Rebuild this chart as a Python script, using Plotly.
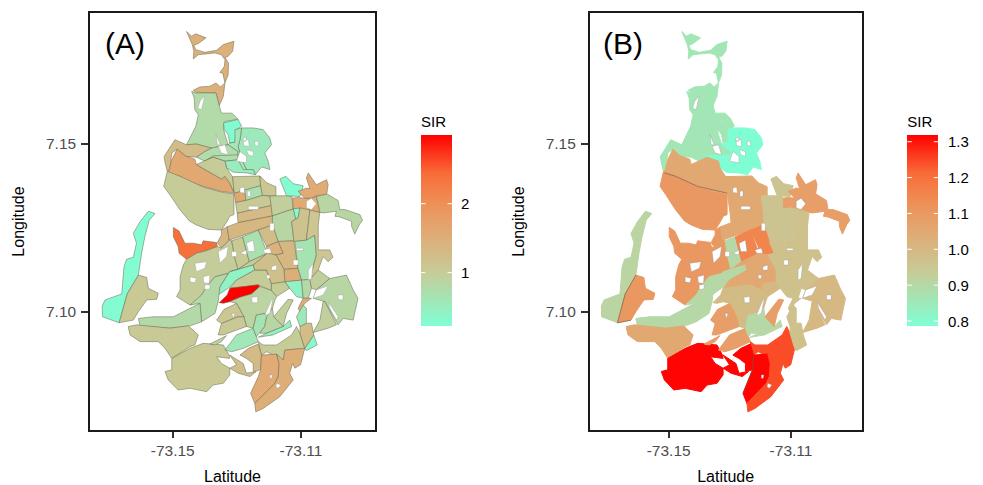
import plotly.graph_objects as go
from plotly.colors import sample_colorscale

# Outlines: (east of -73.15, north of 7.10), in 1/10000 degree.
N1 = [(43,835),(59,821),(72,828),(104,816),(80,799),(66,794),(72,781),(100,773),(137,779),(158,796),(191,806),(187,776),(173,761),(163,758),(174,741),(173,706),(163,682),(156,711),(147,713),(161,731),(163,751),(152,766),(132,771),(100,769),(80,766),(64,753),(66,776),(61,796),(52,816)]
N2 = [(64,660),(85,670),(116,672),(135,682),(149,670),(163,682),(158,642),(145,614),(135,652),(95,652),(72,654)]
N3 = [(59,657),(72,652),(100,652),(135,652),(145,614),(152,592),(184,592),(204,574),(163,567),(158,548),(163,528),(173,498),(121,488),(74,500),(43,498),(72,553),(80,587),(69,602),(67,637)]
N4 = [(158,563),(204,573),(215,553),(199,543),(194,505),(178,503),(173,528),(161,543)]
N5 = [(215,548),(251,548),(282,543),(303,518),(308,498),(287,473),(298,449),(303,424),(277,432),(258,409),(251,424),(230,424),(215,454),(204,493),(210,513)]
N6 = [(74,461),(100,478),(121,488),(173,498),(204,478),(204,453),(163,449),(126,461),(100,449),(87,454)]
N6B = [(100,449),(126,465),(204,468),(204,453),(163,449),(126,461)]
N7 = [(163,449),(204,453),(230,424),(251,424),(258,409),(230,414),(189,416),(168,429)]
N8 = [(194,543),(215,548),(210,513),(204,493),(215,454),(230,424),(220,424),(204,453),(204,478),(173,498),(178,503),(194,505)]
W1 = [(-27,463),(-11,488),(7,513),(43,498),(74,500),(121,488),(100,478),(74,461),(43,463),(14,485),(-3,473),(-9,424),(-17,419),(-24,444)]
W2 = [(14,485),(38,465),(69,455),(74,439),(100,424),(152,396),(163,404),(178,384),(192,354),(152,359),(95,374),(49,389),(23,404),(-14,414),(-3,453)]
W2B = [(74,439),(100,449),(126,461),(163,449),(168,429),(187,402),(192,354),(178,384),(163,404),(152,396),(100,424)]
W3 = [(-28,374),(-17,419),(23,404),(95,372),(152,357),(191,351),(191,290),(178,285),(170,270),(152,244),(111,246),(74,259),(52,271),(23,304),(-9,349)]
M1 = [(187,403),(272,405),(274,376),(225,363),(192,353)]
M2 = [(192,353),(225,363),(228,332),(196,326)]
M3 = [(225,363),(274,376),(280,347),(228,332)]
M4 = [(272,405),(293,385),(322,373),(322,346),(280,347),(274,376)]
M5 = [(196,326),(228,332),(280,347),(303,345),(308,317),(201,294)]
M6 = [(201,294),(308,317),(311,286),(204,266)]
B0 = [(139,207),(152,229),(152,244),(170,254),(176,214),(152,190)]
B1 = [(204,266),(311,286),(311,259),(267,244),(176,214),(170,254)]
M7 = [(303,345),(322,346),(371,346),(376,307),(311,286),(308,317)]
M8 = [(374,339),(391,341),(412,339),(433,339),(448,346),(459,297),(391,307),(376,305)]
M9 = [(376,307),(397,310),(391,280),(383,277)]
M10 = [(311,286),(376,307),(383,277),(371,269),(378,212),(329,210),(311,259)]
NEA = [(334,396),(353,404),(376,382),(407,376),(397,344),(355,346)]
NET = [(391,359),(417,369),(428,367),(417,399),(423,414),(440,389),(448,379),(480,394),(485,379),(480,349),(448,346),(433,339),(412,339)]
EG = [(448,344),(482,351),(516,332),(521,305),(537,305),(584,290),(592,273),(582,260),(568,232),(558,255),(558,270),(521,283),(506,285),(511,300),(469,295),(459,297),(454,323)]
S1 = [(-76,300),(-55,293),(-73,274),(-87,224),(-97,175),(-107,110),(-142,54),(-167,-32),(-219,-14),(-220,18),(-211,36),(-159,54),(-152,135),(-144,157),(-123,163),(-113,205),(-123,234),(-102,269)]
S2 = [(-107,110),(-81,103),(-76,71),(-45,56),(-50,38),(-81,36),(-107,1),(-123,-24),(-167,-32),(-142,54)]
RW = [(2,252),(20,241),(38,205),(64,205),(90,200),(95,212),(137,207),(139,195),(106,183),(74,175),(43,157),(20,175),(17,195),(2,224)]
R1 = [(43,157),(74,175),(106,183),(139,195),(152,190),(176,214),(184,212),(194,160),(204,127),(178,120),(173,115),(132,105),(106,75),(90,51),(80,31),(54,21),(12,46),(23,66),(23,105),(33,140)]
B2 = [(184,212),(218,224),(239,150),(204,127),(194,160)]
B3 = [(218,224),(267,244),(295,175),(239,150)]
B4 = [(267,244),(311,259),(329,210),(293,195)]
B6 = [(293,195),(329,210),(345,175),(322,170),(295,175)]
B7 = [(329,210),(378,212),(391,130),(347,127),(322,170),(345,175)]
B7B = [(347,127),(391,130),(402,95),(350,90)]
B8 = [(371,269),(383,277),(391,280),(397,310),(428,304),(417,214),(381,210),(378,212)]
B9 = [(381,210),(417,214),(443,229),(448,170),(428,97),(402,95),(391,130)]
B10 = [(428,304),(459,296),(454,259),(454,185),(490,185),(500,163),(485,150),(469,165),(454,125),(428,97),(448,170),(443,229),(417,214)]
B11 = [(204,127),(239,150),(295,175),(251,140),(178,120)]
R2 = [(142,51),(147,75),(178,120),(251,140),(256,125),(199,95),(173,71)]
R3 = [(199,95),(256,125),(293,125),(308,84),(308,64),(267,81),(230,76),(178,71)]
R4 = [(251,140),(295,175),(322,170),(347,127),(350,90),(308,84),(293,125),(256,125)]
R5 = [(308,84),(350,90),(365,71),(324,46),(308,64)]
R6 = [(350,90),(402,95),(407,41),(386,46),(365,71)]
R7 = [(402,95),(428,97),(433,71),(423,41),(407,41)]
R7B = [(428,97),(454,125),(490,100),(448,66),(433,71)]
R8 = [(145,28),(170,51),(178,71),(230,76),(267,81),(272,76),(246,54),(210,44),(178,31),(158,26)]
R9 = [(178,31),(210,44),(246,54),(272,76),(308,64),(324,46),(319,36),(311,11),(288,-4),(261,-9),(251,-48),(230,-43),(222,-14),(199,26)]
R10 = [(54,21),(90,51),(106,75),(132,105),(173,115),(147,75),(142,31),(132,-4),(90,-29),(85,26)]
R11 = [(-107,-19),(-61,-14),(2,-14),(54,11),(85,26),(90,-29),(54,-41),(-9,-48),(-102,-41)]
R12 = [(-139,-43),(-112,-38),(-9,-48),(49,-41),(80,-68),(69,-98),(54,-103),(-3,-138),(-24,-108),(-45,-88),(-102,-88),(-133,-68)]
R13 = [(-24,-177),(-3,-172),(-3,-138),(54,-108),(95,-93),(158,-98),(176,-128),(178,-138),(137,-133),(152,-153),(178,-167),(178,-187),(158,-212),(126,-217),(106,-237),(80,-232),(54,-227),(17,-232),(-14,-202)]
R14 = [(178,-128),(220,-153),(230,-182),(261,-177),(241,-192),(204,-182),(178,-167),(199,-157)]
R15 = [(137,-24),(160,8),(189,21),(199,26),(222,-14),(204,-14),(152,-34)]
R16 = [(142,-68),(152,-34),(204,-14),(222,-14),(230,-43),(189,-58),(158,-68)]
R16B = [(116,-95),(168,-70),(152,-88),(132,-98)]
R17 = [(163,-113),(199,-68),(225,-58),(251,-48),(261,-73),(267,-88),(220,-108),(184,-118)]
R18 = [(251,-48),(261,-9),(288,-4),(293,-14),(287,-43),(261,-73)]
R19 = [(272,-63),(287,-43),(293,-14),(311,11),(315,-14),(345,-43),(293,-63)]
R20 = [(267,-75),(293,-63),(345,-43),(365,-24),(371,-43),(313,-68)]
R21 = [(315,-14),(360,38),(376,36),(355,-4),(345,-43)]
R22 = [(267,-88),(282,-98),(324,-98),(371,-68),(386,-43),(397,-63),(412,-108),(350,-113),(345,-143),(293,-118),(277,-128),(267,-95)]
R23 = [(210,-128),(236,-108),(267,-95),(277,-128),(274,-172),(251,-177),(251,-153),(230,-138)]
R24 = [(277,-128),(324,-125),(332,-153),(329,-192),(319,-212),(267,-262),(256,-272),(243,-242),(267,-192),(274,-172)]
R25 = [(324,-125),(345,-143),(350,-113),(412,-108),(399,-157),(381,-167),(374,-153),(365,-182),(376,-202),(334,-252),(282,-287),(259,-297),(256,-272),(267,-262),(319,-212),(329,-192),(332,-153)]
R26 = [(412,-108),(440,-68),(451,-98),(417,-115)]
R27 = [(397,-43),(417,-33),(433,-33),(440,-68),(412,-108),(397,-63)]
R28 = [(391,11),(407,41),(433,41),(412,26),(397,1)]
R29 = [(386,-14),(407,21),(417,11),(417,-33),(397,-43)]
E1 = [(448,66),(490,100),(542,110),(563,66),(578,41),(563,-24),(532,-19),(516,-38),(475,31),(438,41)]
E2 = [(438,-61),(459,-24),(469,31),(475,31),(511,-38),(485,-48)]

areas = [N1,N2,N3,N4,N5,N6,N6B,N7,N8,W1,W2,W2B,W3,M1,M2,M3,M4,M5,M6,B0,B1,M7,M8,M9,M10,NEA,NET,EG,S1,S2,RW,R1,B2,B3,B4,B6,B7,B7B,B8,B9,B10,B11,R2,R3,R4,R5,R6,R7,R7B,R8,R9,R10,R11,R12,R13,R14,R15,R16,R16B,R17,R18,R19,R20,R21,R22,R23,R24,R25,R26,R27,R28,R29,E1,E2]
sir_a = [1.47,1.47,.78,.27,.55,.75,.75,.5,.6,1.25,1.6,1.0,1.0,1.02,1.6,.72,1.08,1.05,1.3,1.35,1.35,.95,1.55,.27,.85,.27,1.55,.85,.27,1.05,2.37,.98,1.05,.7,1.25,1.45,1.35,1.5,1.15,.65,1.1,1.0,.42,1.0,1.2,1.0,.42,.8,.95,2.97,.88,.8,.8,1.05,1.05,1.2,1.1,1.05,.85,.6,.65,.85,.45,.95,1.0,1.3,1.55,1.5,.35,1.25,1.55,.55,.85,.95]
sir_b = [.86,.86,.86,.86,.79,.86,.79,.79,.79,.86,1.05,1.05,1.10,1.05,1.05,1.05,1.05,1.05,1.05,1.10,1.05,.96,1.08,.96,.96,.96,1.08,1.08,.91,1.10,1.10,1.10,.90,1.15,1.15,1.15,.97,.97,.96,.97,.97,1.06,.90,1.05,1.05,1.0,.97,.97,.97,.99,.99,.90,.90,1.05,1.31,1.31,1.08,1.08,1.08,1.08,.9,.9,.9,1.08,1.24,1.31,1.31,1.24,.97,.97,.97,.97,1.0,1.0]

holes = [
 [(100,644),(90,602),(78,607),(85,627)],[(135,528),(149,498),(139,498)],[(142,493),(163,498),(173,468),(152,473)],
 [(210,478),(230,463),(230,444),(199,449)],[(210,369),(222,372),(225,354),(210,356)],[(233,359),(243,361),(243,344),(233,344)],
 [(236,315),(267,315),(267,305),(236,305)],[(142,180),(173,195),(168,165),(147,145)],[(69,145),(106,150),(100,130),(74,120)],
 [(95,105),(116,110),(114,85),(97,87)],[(54,105),(74,100),(69,87),(54,90)],[(100,81),(118,81),(114,68),(100,68)],
 [(230,205),(251,214),(256,180),(236,180)],[(303,264),(316,264),(316,242),(303,242)],[(246,44),(265,46),(265,28),(248,28)],
 [(308,36),(313,41),(303,-4),(287,-9)],
 [(485,31),(516,-14),(511,-24),(490,11)],[(516,51),(532,51),(530,36),(516,38)],[(423,125),(438,145),(433,100),(423,95)],
 [(448,66),(485,78),(469,51),(438,41)],[(376,155),(391,155),(391,140),(376,140)],[(386,190),(407,190),(407,183),(386,183)],
 [(303,-187),(311,-187),(309,-197),(303,-197)],[(324,-212),(337,-217),(329,-227),(322,-222)],[(220,508),(236,515),(239,493),(222,495)],
 [(417,330),(433,339),(448,322),(433,305),(417,310)],
 [(230,483),(251,478),(251,463),(236,468)],[(220,518),(230,521),(228,508),(220,508)],[(256,508),(267,508),(267,493),(256,498)],
 [(184,180),(199,180),(199,165),(184,165)],[(210,175),(230,185),(230,170)],[(282,185),(303,190),(308,175),(288,175)],
 [(308,135),(324,140),(324,125),(308,125)],[(293,110),(303,110),(303,100),(293,100)],[(184,-4),(194,-4),(189,-19)],
]
b_borders = [[(-14,414),(23,404),(95,374),(191,354)],[(-107,110),(-142,54),(-167,-32)],[(-167,-32),(-123,-24)],[(243,-242),(267,-192),(274,-172),(277,-128)]]

LON0, LAT0, UNIT = -73.15, 7.10, 1e-4
x_ticks = [-73.15, -73.11]
y_ticks = [7.10, 7.15]
x_labels = ["-73.15", "-73.11"]
y_labels = ["7.10", "7.15"]
ticks_a = [1, 2]
ticks_b = [0.8, 0.9, 1.0, 1.1, 1.2, 1.3]
labels_a = ["1", "2"]
labels_b = ["0.8", "0.9", "1.0", "1.1", "1.2", "1.3"]
limits_a = (0.232, 2.97)
limits_b = (0.787, 1.314)

SCALE = [[0,"#7FFFD4"],[.28,"#C6CC98"],[.5,"#E2A872"],[.64,"#EE9058"],[.8,"#F86C38"],[1,"#FF0000"]]
W, H = 983, 485
FONT = "Liberation Sans"
BAR_BOTTOM, BAR_H, BAR_W = 325.7, 189, 31

def lons(p): return [LON0 + q[0]*UNIT for q in p] + [LON0 + p[0][0]*UNIT]
def lats(p): return [LAT0 + q[1]*UNIT for q in p] + [LAT0 + p[0][1]*UNIT]
def colour(v, lim): return sample_colorscale(SCALE, [min(1,max(0,(v-lim[0])/(lim[1]-lim[0])))])[0]

fig = go.Figure()
def panel(vals, lim, xa, ya, edge):
    for p, v in zip(areas, vals):
        c = colour(v, lim)
        fig.add_trace(go.Scatter(x=lons(p), y=lats(p), xaxis=xa, yaxis=ya, mode="lines", fill="toself",
            fillcolor=c, line=dict(color=edge or c, width=0.5 if edge else 1), showlegend=False, hoverinfo="skip"))
    hx, hy = [], []
    for h in holes:
        hx += lons(h) + [None]; hy += lats(h) + [None]
    fig.add_trace(go.Scatter(x=hx, y=hy, xaxis=xa, yaxis=ya, mode="lines", fill="toself", fillcolor="white",
        line=dict(color="#999999", width=0.4), showlegend=False, hoverinfo="skip"))

panel(sir_a, limits_a, "x", "y", "#66664f")
panel(sir_b, limits_b, "x2", "y2", None)
for b in b_borders:
    fig.add_trace(go.Scatter(x=[LON0+q[0]*UNIT for q in b], y=[LAT0+q[1]*UNIT for q in b], xaxis="x2", yaxis="y2",
        mode="lines", line=dict(color="#6a5a4a", width=0.6), showlegend=False, hoverinfo="skip"))

notes = []
def bar(lim, tv, tt, xa, ya, px, label_px):
    fig.add_trace(go.Scatter(x=[LON0], y=[LAT0], xaxis=xa, yaxis=ya, mode="markers", showlegend=False, hoverinfo="skip",
        marker=dict(size=1, opacity=0, color=[lim[0]], cmin=lim[0], cmax=lim[1], colorscale=SCALE,
            colorbar=dict(x=px/W, xanchor="left", xpad=0, ypad=0, thickness=BAR_W, thicknessmode="pixels",
                len=(BAR_H+24)/H, lenmode="fraction", y=(H-BAR_BOTTOM)/H, yanchor="bottom", outlinewidth=0, borderwidth=0,
                tickmode="array", tickvals=tv, ticktext=tt, ticks="", showticklabels=False,
                title=dict(text="SIR", side="top", font=dict(family=FONT, size=15, color="black"))))))
    for v, t in zip(tv, tt):
        py = BAR_BOTTOM - (v-lim[0])/(lim[1]-lim[0])*BAR_H
        yy = 1 - py/H
        notes.append(dict(text=t, x=label_px/W, y=yy, xref="paper", yref="paper", xanchor="left", yanchor="middle",
            showarrow=False, font=dict(family=FONT, size=15, color="black")))
        for xp, off in ((px, 6), (px+BAR_W, -6)):
            notes.append(dict(text="", x=xp/W, y=yy, xref="paper", yref="paper", ax=off, ay=0, showarrow=True,
                arrowhead=0, arrowwidth=1, arrowcolor="white", standoff=0))
bar(limits_a, ticks_a, labels_a, "x", "y", 421, 459)
bar(limits_b, ticks_b, labels_b, "x2", "y2", 907.3, 946)

xr, yr = [-73.1758, -73.0869], [7.0649, 7.189]
ax = dict(range=xr, tickmode="array", tickvals=x_ticks, ticktext=x_labels, showgrid=False, zeroline=False, showline=True,
    mirror=True, linecolor="#1a1a1a", linewidth=1.5, ticks="outside", ticklen=6, tickwidth=2, tickcolor="#333333",
    tickfont=dict(family=FONT, size=15.5, color="#4D4D4D"),
    title=dict(text="Latitude", standoff=13, font=dict(family=FONT, size=16, color="black")))
ay = dict(range=yr, tickmode="array", tickvals=y_ticks, ticktext=y_labels, showgrid=False, zeroline=False, showline=True,
    mirror=True, linecolor="#1a1a1a", linewidth=1.5, ticks="outside", ticklen=7, tickwidth=2, tickcolor="#333333",
    ticklabelstandoff=2, tickfont=dict(family=FONT, size=15.5, color="#4D4D4D"),
    title=dict(text="Longitude", standoff=17, font=dict(family=FONT, size=16, color="black")))
dy = [(H-430)/H, (H-13)/H]
notes += [dict(text="(A)", x=103/W, y=(H-43)/H, xref="paper", yref="paper", xanchor="left", yanchor="middle", showarrow=False, font=dict(family=FONT, size=30, color="black")),
          dict(text="(B)", x=601/W, y=(H-43)/H, xref="paper", yref="paper", xanchor="left", yanchor="middle", showarrow=False, font=dict(family=FONT, size=30, color="black"))]
fig.update_layout(width=W, height=H, margin=dict(l=0,r=0,t=0,b=0), paper_bgcolor="white", plot_bgcolor="white",
    xaxis=dict(ax, domain=[90/W, 375/W], anchor="y"), yaxis=dict(ay, domain=dy, anchor="x"),
    xaxis2=dict(ax, domain=[589.7/W, 861.7/W], anchor="y2"), yaxis2=dict(ay, domain=dy, anchor="x2"),
    annotations=notes)
fig.write_html("out.html", config=dict(displayModeBar=False),
    post_script="document.body.style.margin='0';document.documentElement.style.overflow='hidden';")
